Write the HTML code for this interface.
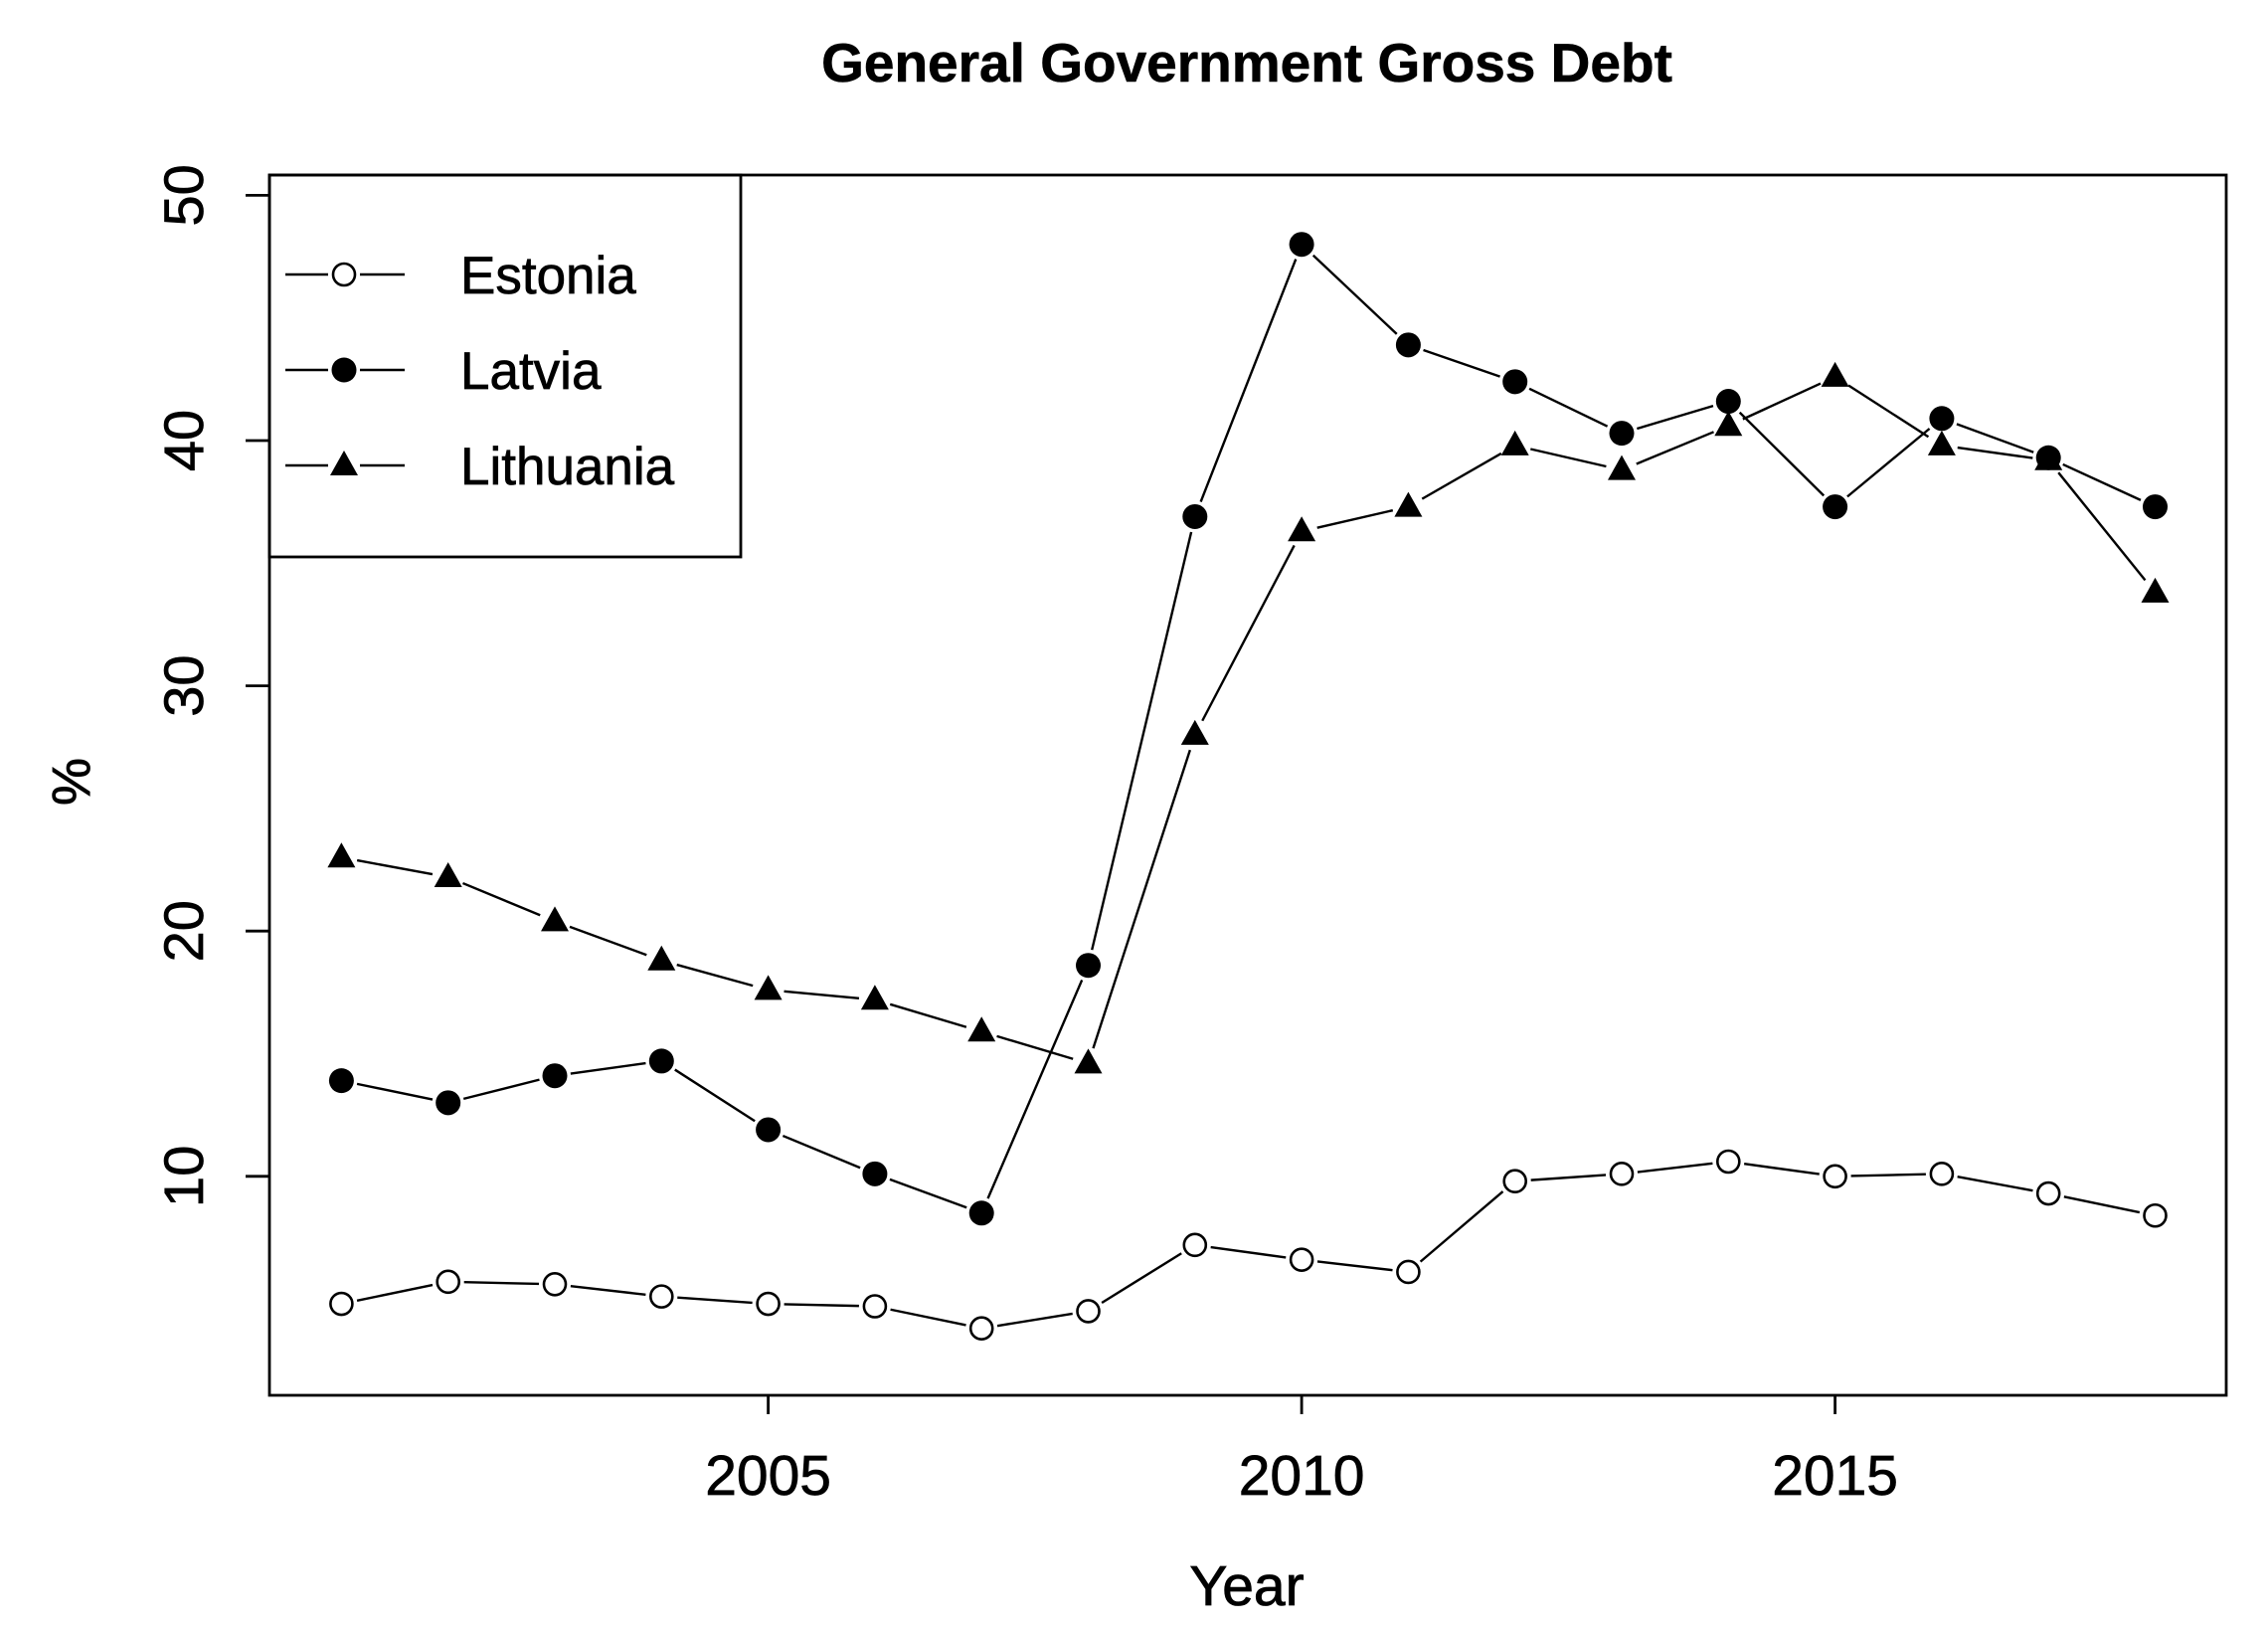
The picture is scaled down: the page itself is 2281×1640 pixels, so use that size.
<!DOCTYPE html>
<html><head><meta charset="utf-8"><style>
html,body{margin:0;padding:0;background:#fff;}
svg{display:block;font-family:"Liberation Sans",Arial,sans-serif;}
</style></head><body>
<svg id="s" width="2281" height="1640" viewBox="0 0 2281 1640" xmlns="http://www.w3.org/2000/svg">
<rect width="2281" height="1640" fill="#fff"/>
<text x="1254" y="82" font-size="55" font-weight="bold" text-anchor="middle" stroke="#000" stroke-width="0.6">General Government Gross Debt</text>
<rect x="271" y="176" width="1968" height="1227" fill="none" stroke="#000" stroke-width="2.8"/>
<rect x="271" y="176" width="474" height="384" fill="none" stroke="#000" stroke-width="2.8"/>
<g id="g"></g>
<text x="1254" y="1614" font-size="57" text-anchor="middle" stroke="#000" stroke-width="0.8">Year</text>
<text transform="translate(90,786) rotate(-90)" font-size="54" text-anchor="middle" stroke="#000" stroke-width="0.8">%</text>
</svg>
<script>
var g=document.getElementById('g'),h='';
function X(y){return 772.6+(y-2005)*107.3;}
function Y(v){return 196.4+(50-v)*24.66;}
[10,20,30,40,50].forEach(function(v){var y=Y(v);
h+='<line x1="247" x2="271" y1="'+y+'" y2="'+y+'" stroke="#000" stroke-width="2.8"/>';
h+='<text transform="translate(204,'+y+') rotate(-90)" font-size="56" text-anchor="middle" stroke="#000" stroke-width="0.7">'+v+'</text>';});
[2005,2010,2015].forEach(function(t){var x=X(t);
h+='<line x1="'+x+'" x2="'+x+'" y1="1403" y2="1422" stroke="#000" stroke-width="2.8"/>';
h+='<text x="'+x+'" y="1503" font-size="57" text-anchor="middle" stroke="#000" stroke-width="0.7">'+t+'</text>';});
var E=[4.8,5.7,5.6,5.1,4.8,4.7,3.8,4.5,7.2,6.6,6.1,9.8,10.1,10.6,10.0,10.1,9.3,8.4];
var L=[13.9,13.0,14.1,14.7,11.9,10.1,8.5,18.6,36.9,48.0,43.9,42.4,40.3,41.6,37.3,40.9,39.3,37.3];
var T=[23.0,22.2,20.4,18.8,17.6,17.2,15.9,14.6,28.0,36.3,37.3,39.8,38.8,40.6,42.6,39.8,39.2,33.8];
function mk(t,x,y){
 if(t==0)return '<circle cx="'+x+'" cy="'+y+'" r="11" fill="#fff" stroke="#000" stroke-width="2.6"/>';
 if(t==1)return '<circle cx="'+x+'" cy="'+y+'" r="12.5" fill="#000"/>';
 return '<polygon points="'+x+','+(y-15)+' '+(x+14)+','+(y+10)+' '+(x-14)+','+(y+10)+'" fill="#000"/>';}
function ser(d,t){
 for(var i=0;i<d.length-1;i++){
  var x1=X(2001+i),y1=Y(d[i]),x2=X(2002+i),y2=Y(d[i+1]);
  var dx=x2-x1,dy=y2-y1,l=Math.sqrt(dx*dx+dy*dy),g=16;
  if(l>2*g)h+='<line x1="'+(x1+dx*g/l)+'" y1="'+(y1+dy*g/l)+'" x2="'+(x2-dx*g/l)+'" y2="'+(y2-dy*g/l)+'" stroke="#000" stroke-width="2.4"/>';
 }
 d.forEach(function(v,i){h+=mk(t,X(2001+i),Y(v));});
}
ser(E,0);ser(L,1);ser(T,2);
var names=['Estonia','Latvia','Lithuania'];
[276,372,468].forEach(function(y,i){
 h+='<line x1="287" x2="330" y1="'+y+'" y2="'+y+'" stroke="#000" stroke-width="2.4"/>';
 h+='<line x1="362" x2="407" y1="'+y+'" y2="'+y+'" stroke="#000" stroke-width="2.4"/>';
 h+=mk(i,346,y);
 h+='<text x="463" y="'+(y+19)+'" font-size="53" stroke="#000" stroke-width="0.7">'+names[i]+'</text>';
});
g.innerHTML=h;
</script>
</body></html>
